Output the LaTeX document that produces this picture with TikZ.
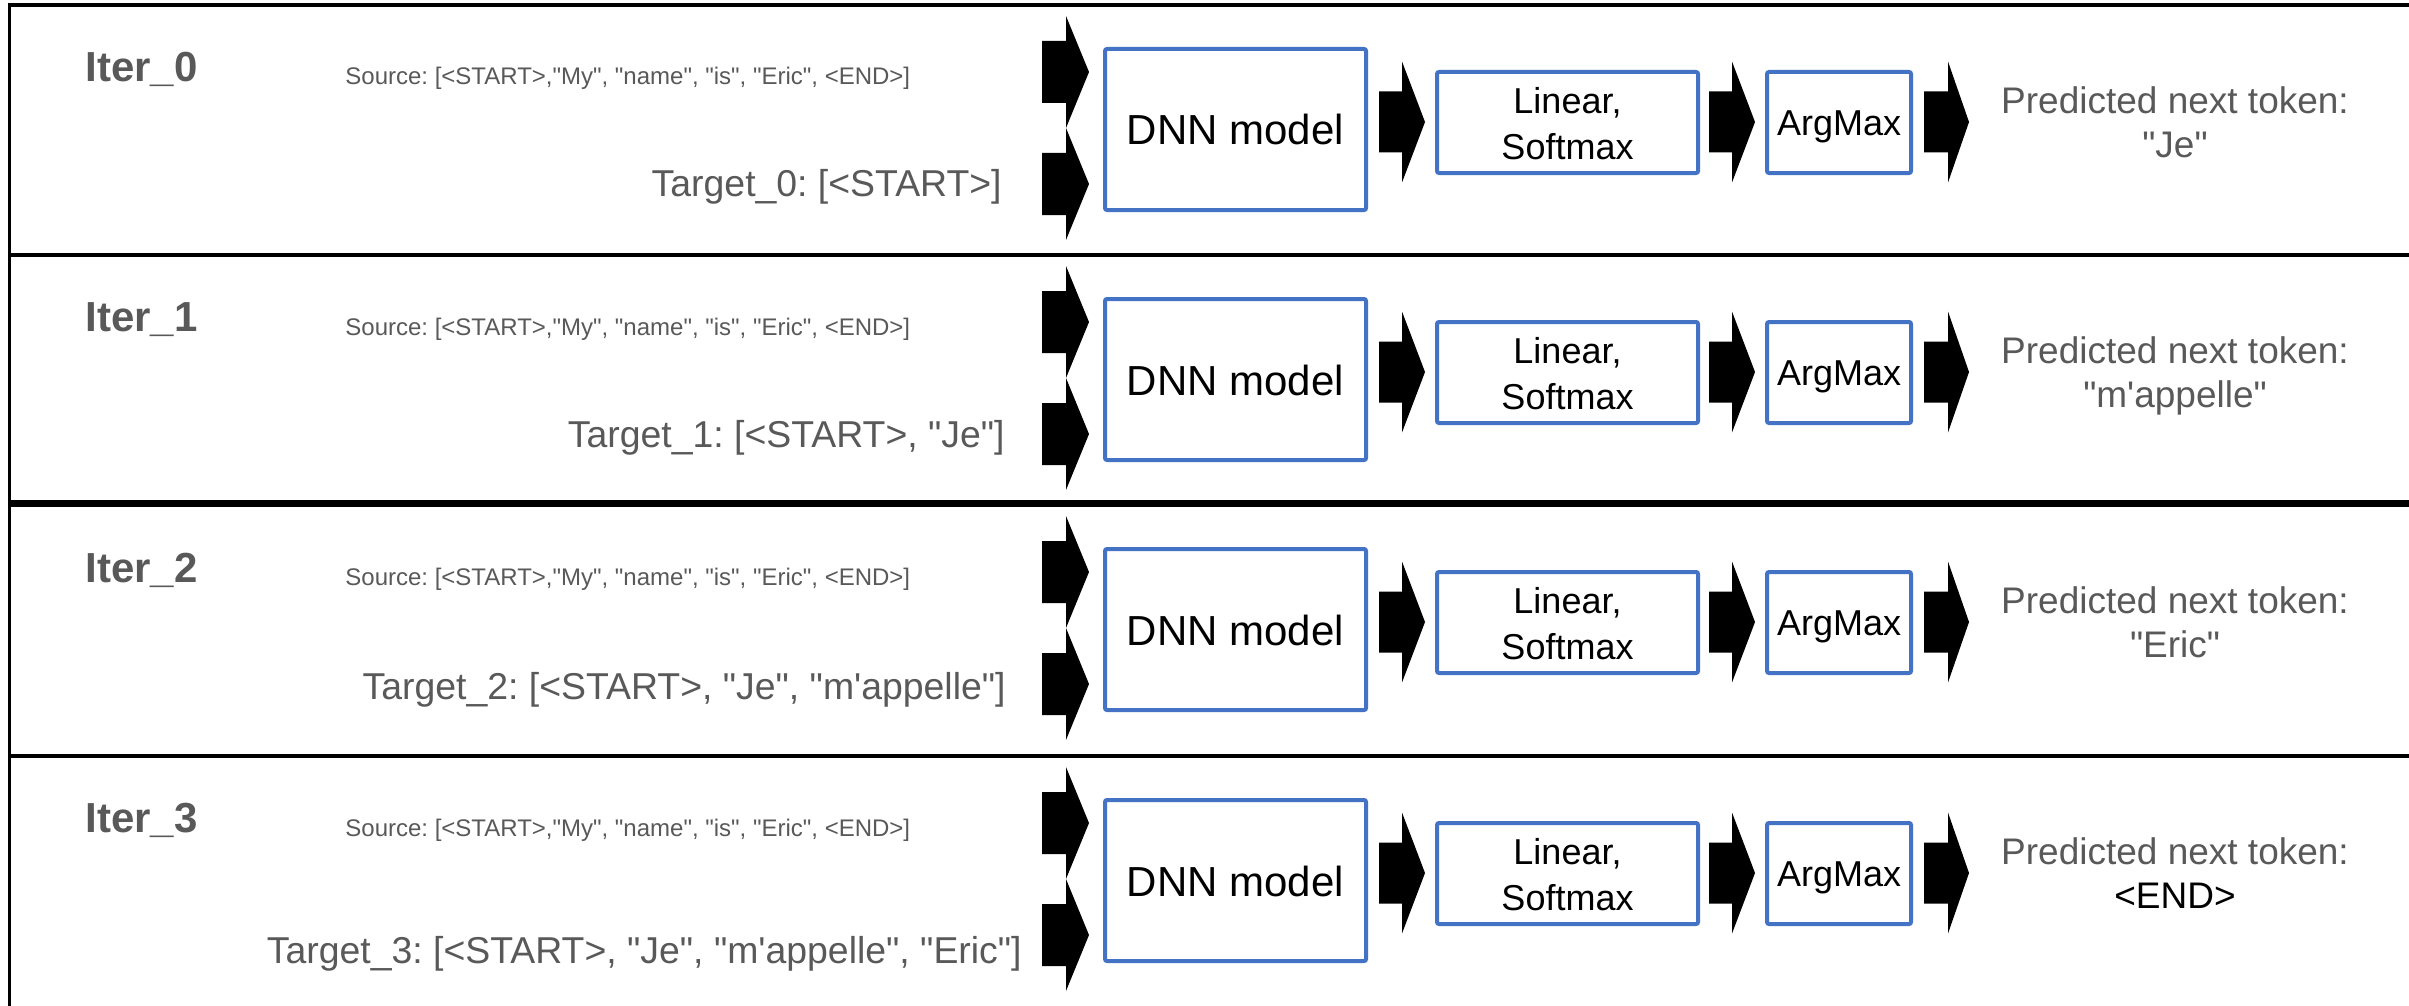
\documentclass[tikz,border=0pt]{standalone}
\usepackage{fontspec}
\setmainfont{Liberation Sans}[Ligatures=TeXOff]
\frenchspacing
\definecolor{txtgray}{HTML}{595959}
\definecolor{boxblue}{HTML}{4472C4}

% filled block arrow: tail x, head-base x, tip x, centre y, half body, half head
\newcommand\blockarr[6]{%
  \fill[black] (#1,#4-#5) -- (#2,#4-#5) -- (#2,#4-#6) -- (#3,#4)
    -- (#2,#4+#6) -- (#2,#4+#5) -- (#1,#4+#5) -- cycle;}

% the shared model pipeline of one iteration row; #1 = row top, #2 = name suffix
\newcommand\pipeline[2]{%
  \blockarr{1042}{1066}{1089}{#1+67}{31}{56}
  \blockarr{1042}{1066}{1089}{#1+179}{31}{56}
  \node[stage, minimum width=130.5pt, minimum height=80.5pt] (dnn#2) at (1235.5,#1+124.5) {};
  \node[boxtxt, font=\fontsize{21}{25}\selectfont] (dnnT#2) at (1235.5,#1+140) {DNN model};
  \blockarr{1379}{1402}{1425}{#1+117}{30.5}{60.5}
  \node[stage, minimum width=130.5pt, minimum height=50.5pt] (lin#2) at (1567.5,#1+117.5) {};
  \node[boxtxt] (linA#2) at (1567.5,#1+108) {Linear,};
  \node[boxtxt] (linB#2) at (1567.5,#1+154) {Softmax};
  \blockarr{1709}{1732}{1755}{#1+117}{30.5}{60.5}
  \node[stage, minimum width=72pt, minimum height=50.5pt] (amax#2) at (1839,#1+117.5) {};
  \node[boxtxt] (amaxT#2) at (1839,#1+130) {ArgMax};
  \blockarr{1924}{1948}{1969}{#1+117}{30.5}{60.5}
  \node[predtxt] (pred#2) at (2175,#1+108) {Predicted next token:};
}

\begin{document}
\begin{tikzpicture}[x=0.5pt,y=-0.5pt,
  stage/.style={draw=boxblue, line width=2pt, rounded corners=1pt, inner sep=0pt},
  frame/.style={draw=black, line width=1.6pt},
  boxtxt/.style={font=\fontsize{18}{21}\selectfont, text=black, anchor=base, inner sep=0pt},
  predtxt/.style={font=\fontsize{18.5}{22}\selectfont, text=txtgray, anchor=base, inner sep=0pt},
  itertxt/.style={font=\fontsize{21}{25}\selectfont\bfseries, text=txtgray, anchor=base west, inner sep=0pt},
  srctxt/.style={font=\fontsize{12}{14}\selectfont, text=txtgray, anchor=base west, inner sep=0pt},
  tgttxt/.style={font=\fontsize{18.7}{22}\selectfont, text=txtgray, anchor=base east, inner sep=0pt}]

\useasboundingbox (0,0) rectangle (2409,1006);
\fill[white] (0,0) rectangle (2409,1006);
\clip (0,0) rectangle (2409,1006);

% row frames, open to the right
\draw[frame] (2460,5) -- (9.5,5) -- (9.5,255) -- (2460,255);
\draw[frame] (9.5,255) -- (9.5,502) -- (2460,502);
\draw[frame] (2460,505) -- (9.5,505) -- (9.5,756) -- (2460,756);
\draw[frame] (9.5,756) -- (9.5,1012);

% iteration 0
\node[itertxt] (it0) at (85,82) {Iter\_0};
\node[srctxt] (src0) at (345,85) {Source: [<START>,"My", "name", "is", "Eric", <END>]};
\node[tgttxt] (tgt0) at (1002,196) {Target\_0: [<START>]};
\pipeline{5}{0}
\node[predtxt] (tok0) at (2175,157) {"Je"};

% iteration 1
\node[itertxt] (it1) at (85,331) {Iter\_1};
\node[srctxt] (src1) at (345,335) {Source: [<START>,"My", "name", "is", "Eric", <END>]};
\node[tgttxt] (tgt1) at (1005,447) {Target\_1: [<START>, "Je"]};
\pipeline{255}{1}
\node[predtxt] (tok1) at (2175,407) {"m'appelle"};

% iteration 2
\node[itertxt] (it2) at (85,582) {Iter\_2};
\node[srctxt] (src2) at (345,585) {Source: [<START>,"My", "name", "is", "Eric", <END>]};
\node[tgttxt] (tgt2) at (1006,699) {Target\_2: [<START>, "Je", "m'appelle"]};
\pipeline{505}{2}
\node[predtxt] (tok2) at (2175,657) {"Eric"};

% iteration 3
\node[itertxt] (it3) at (85,832) {Iter\_3};
\node[srctxt] (src3) at (345,836) {Source: [<START>,"My", "name", "is", "Eric", <END>]};
\node[tgttxt] (tgt3) at (1022,963) {Target\_3: [<START>, "Je", "m'appelle", "Eric"]};
\pipeline{756}{3}
\node[predtxt, text=black] (tok3) at (2175,908) {<END>};

\end{tikzpicture}
\end{document}
